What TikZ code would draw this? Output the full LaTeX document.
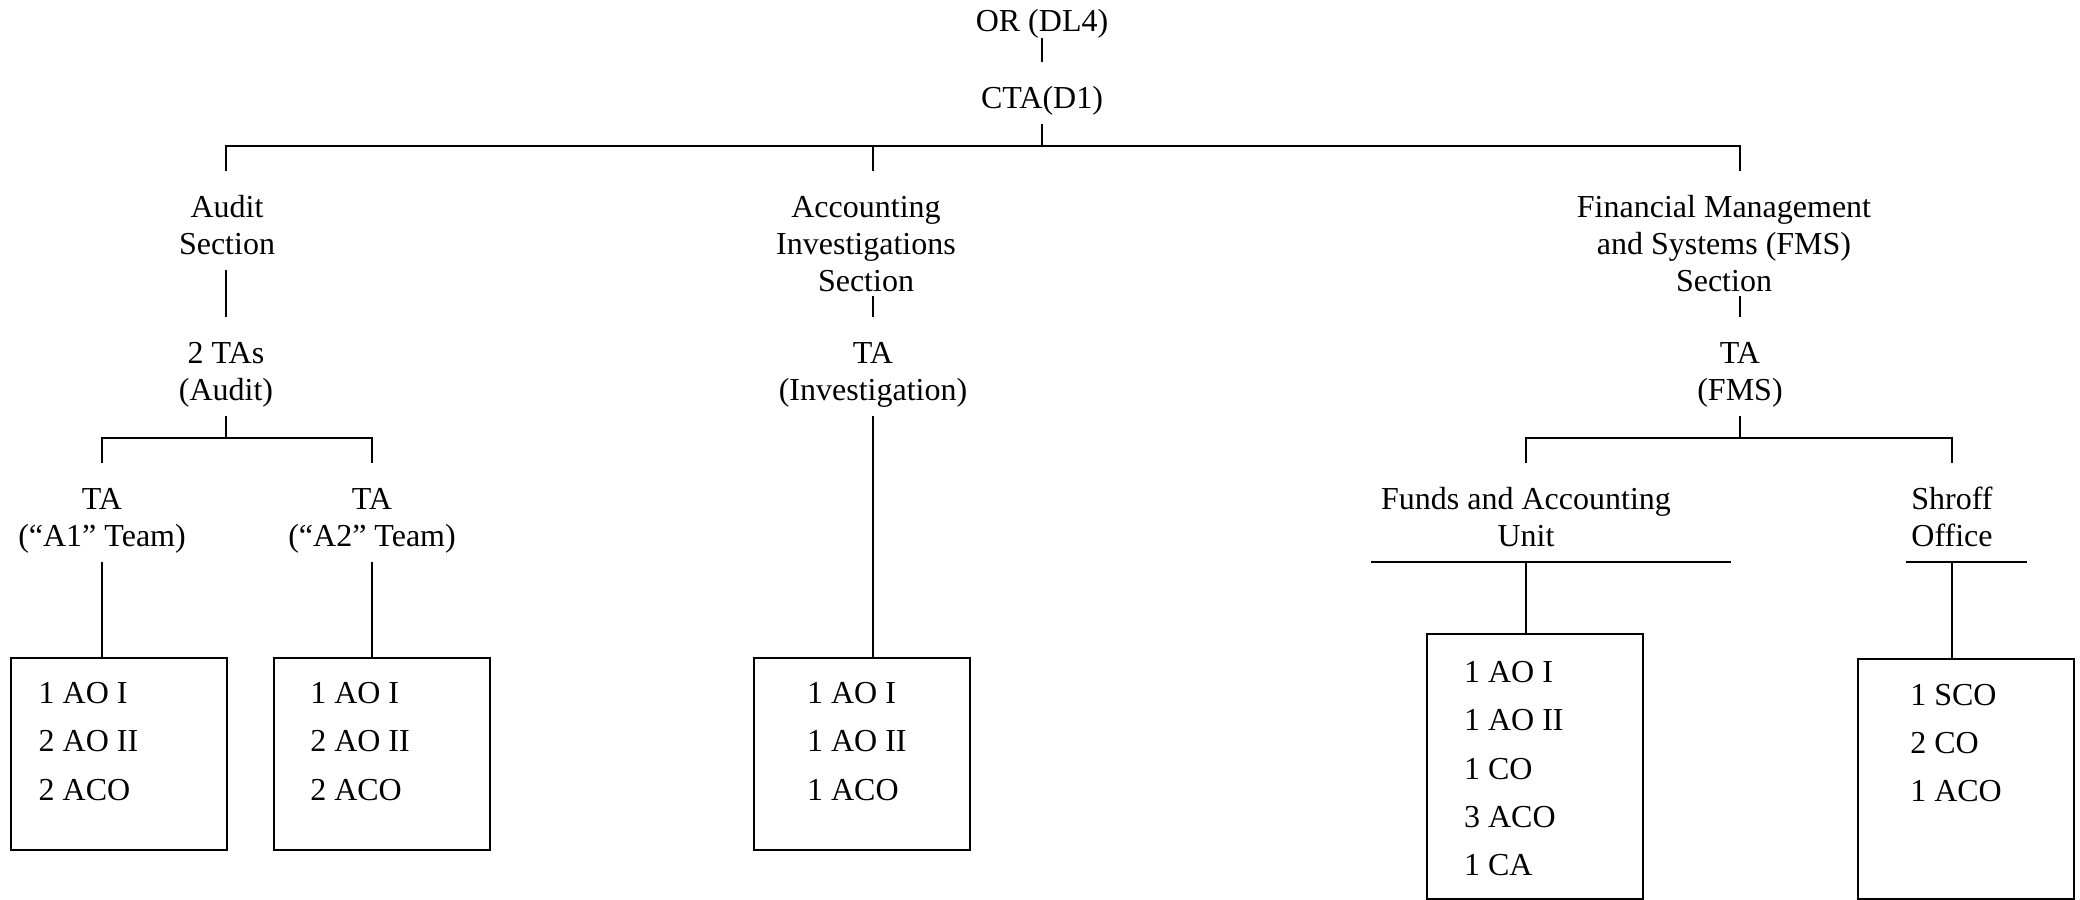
\documentclass[tikz,border=0pt]{standalone}
\usepackage{fontspec}
\setmainfont{Liberation Serif}
\newcommand{\uproom}{\rule{0pt}{17.25pt}}
\newcommand{\downroom}[1][5.6pt]{\rule[-#1]{0pt}{#1}}
\tikzset{
	post/.style={align=center, inner sep=0pt, anchor=north, font=\fontsize{12}{13.8}\selectfont},
	postbox/.style={draw, line width=0.8pt, minimum width=81pt, inner sep=0pt, anchor=north},
	staff/.style={anchor=north west, align=left, inner sep=0pt, font=\fontsize{12}{18.15}\selectfont},
	link/.style={line width=0.8pt}
}
\begin{document}
\begin{tikzpicture}[x=0.375pt, y=-0.375pt]
	\useasboundingbox (0,0) rectangle (2080,899);
	\coordinate (bus1) at (0,146);
	\coordinate (bus2) at (0,438);
	% head of the office
	\node[post, anchor=base] (or) at (1042,31) {OR (DL4)};
	\node[post] (cta) at (1042,62) {\uproom CTA(D1)\downroom};
	% sections
	\node[post] (audit) at (227,171) {\uproom Audit\\Section\downroom};
	\node[post] (aisec) at (866,171) {\uproom Accounting\\Investigations\\Section\downroom[1.7pt]};
	\node[post] (fms) at (1724,171) {\uproom Financial Management\\and Systems (FMS)\\Section\downroom[1.7pt]};
	\node[post] (tas) at (226,317) {\uproom 2 TAs\\(Audit)\downroom};
	\node[post] (tainv) at (873,317) {\uproom TA\\(Investigation)\downroom};
	\node[post] (tafms) at (1740,317) {\uproom TA\\(FMS)\downroom};
	% teams and units
	\node[post] (ta1) at (102,463) {\uproom TA\\(``A1'' Team)\downroom};
	\node[post] (ta2) at (372,463) {\uproom TA\\(``A2'' Team)\downroom};
	\node[post] (fau) at (1526,463) {\uproom Funds and Accounting\\Unit\downroom};
	\node[post] (shroff) at (1952,463) {\uproom Shroff\\Office\downroom};
	% staff boxes
	\node[postbox, minimum height=72pt, label={[staff, xshift=10.6pt, yshift=-9.2pt]north west:{1 AO I\\2 AO II\\2 ACO}}] (a1box) at (119,657) {};
	\node[postbox, minimum height=72pt, label={[staff, xshift=13.8pt, yshift=-9.2pt]north west:{1 AO I\\2 AO II\\2 ACO}}] (a2box) at (382,657) {};
	\node[postbox, minimum height=72pt, label={[staff, xshift=20.1pt, yshift=-9.2pt]north west:{1 AO I\\1 AO II\\1 ACO}}] (invbox) at (862,657) {};
	\node[postbox, minimum height=99.4pt, label={[staff, xshift=14.1pt, yshift=-10.3pt]north west:{1 AO I\\1 AO II\\1 CO\\3 ACO\\1 CA}}] (faubox) at (1535,633) {};
	\node[postbox, minimum height=90pt, label={[staff, xshift=19.8pt, yshift=-9.5pt]north west:{1 SCO\\2 CO\\1 ACO}}] (shroffbox) at (1966,658) {};
	% top of the chart
	\draw[link] (or) -- (cta);
	\draw[link] (cta) -- (cta |- bus1);
	\draw[link] (tas.north |- audit.north) -- (tas.north |- bus1) -- (tafms.north |- bus1) -- (tafms.north |- fms.north);
	\draw[link] (tainv.north |- aisec.north) -- (tainv.north |- bus1);
	% audit section
	\draw[link] (tas.north) -- (tas.north |- audit.south);
	\draw[link] (tas) -- (tas |- bus2);
	\draw[link] (ta1.north) -- (ta1.north |- bus2) -- (ta2.north |- bus2) -- (ta2.north);
	\draw[link] (ta1.south) -- (ta1.south |- a1box.north);
	\draw[link] (ta2.south) -- (ta2.south |- a2box.north);
	% investigations
	\draw[link] (tainv.north) -- (tainv.north |- aisec.south);
	\draw[link] (tainv.south) -- (tainv.south |- invbox.north);
	% fms section
	\draw[link] (tafms.north) -- (tafms.north |- fms.south);
	\draw[link] (tafms) -- (tafms |- bus2);
	\draw[link] (fau.north) -- (fau.north |- bus2) -- (shroff.north |- bus2) -- (shroff.north);
	\draw[link] (fau.south) ++(-155,0) -- ++(360,0);
	\draw[link] (shroff.south) ++(-46,0) -- ++(121,0);
	\draw[link] (fau.south) -- (fau.south |- faubox.north);
	\draw[link] (shroff.south) -- (shroff.south |- shroffbox.north);
\end{tikzpicture}
\end{document}
